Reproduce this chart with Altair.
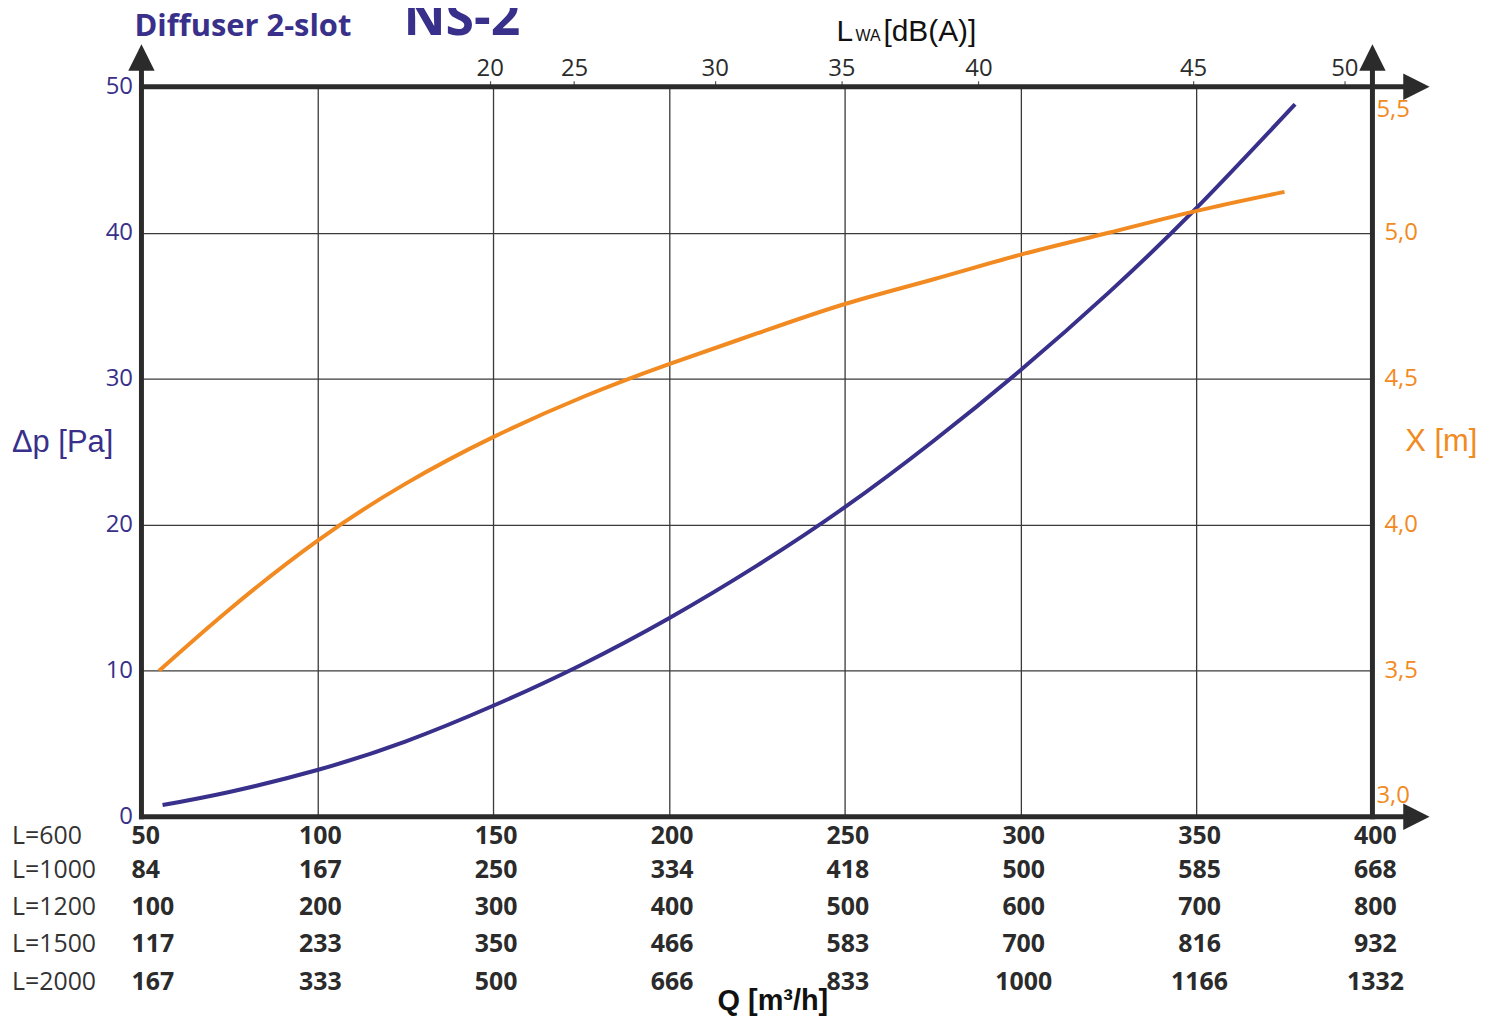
import altair as alt
import pandas as pd

BLUE = "#38308a"
ORANGE = "#f28a22"
INK = "#2b2b2b"
GRID = "#3a3a3a"

# ---------------- data ----------------
# pressure drop curve (left axis, Pa)
dp_q = [56, 75, 100, 125, 150, 175, 200, 225, 250, 275, 300, 325, 350, 378]
dp_pa = [0.8, 1.7, 3.2, 5.15, 7.6, 10.4, 13.6, 17.2, 21.2, 25.7, 30.6, 35.9, 41.7, 48.8]

# throw curve (right axis, m)
throw_q = [55, 75, 100, 125, 150, 176, 200, 225, 250, 275, 300, 325, 350, 375]
throw_m = [3.50, 3.71, 3.945, 4.14, 4.30, 4.44, 4.55, 4.655, 4.756, 4.84, 4.925, 5.00, 5.075, 5.14]

# sound power (top axis): labels and the flow Q where each sits
lwa_labels = ["20", "25", "30", "35", "40", "45", "50"]
lwa_q = [149, 173, 213, 249, 288, 349, 392]

q_grid = [100, 150, 200, 250, 300, 350]
pa_ticks = [0, 10, 20, 30, 40, 50]
x_mid_ticks = [3.5, 4.0, 4.5, 5.0]
x_end_low = [3.0]
x_end_high = [5.5]

q_cols = [50, 100, 150, 200, 250, 300, 350, 400]
row_names = ["L=600", "L=1000", "L=1200", "L=1500", "L=2000"]
row_values = [
    [50, 100, 150, 200, 250, 300, 350, 400],
    [84, 167, 250, 334, 418, 500, 585, 668],
    [100, 200, 300, 400, 500, 600, 700, 800],
    [117, 233, 350, 466, 583, 700, 816, 932],
    [167, 333, 500, 666, 833, 1000, 1166, 1332],
]

# frame lines and arrow heads (in data units)
frame_q = [50, 400, 50, 50]
frame_q2 = [50, 400, 411, 411]
frame_pa = [0, 0, 50, 0]
frame_pa2 = [51.6, 51.6, 50, 0]
arrow_up_q = [50, 400]
arrow_up_pa = [52.0, 52.0]
arrow_right_q = [412.5, 412.5]
arrow_right_pa = [50, 0]

# ---------------- layout ----------------
W, H = 1236, 733
ROW_Y = [837, 871, 909, 946, 984]  # page y of table rows
OX, OY = 142, 85  # page position of plot origin

xs = alt.Scale(domain=[50, 400], nice=False, zero=False)
ys = alt.Scale(domain=[0, 50], nice=False, zero=False)
ys2 = alt.Scale(domain=[3.0, 5.5], nice=False, zero=False)

df_dp = pd.DataFrame({"q": dp_q, "pa": dp_pa})
df_x = pd.DataFrame({"q": throw_q, "m": throw_m})
df_lwa = pd.DataFrame({"q": lwa_q, "label": lwa_labels})

blue = alt.Chart(df_dp).mark_line(color=BLUE, strokeWidth=4, interpolate="natural").encode(
    x=alt.X("q:Q", scale=xs, axis=alt.Axis(
        orient="bottom", values=q_grid, grid=True, labels=False, ticks=False,
        domain=False, title=None, gridColor=GRID, gridWidth=1.3, gridOpacity=1)),
    y=alt.Y("pa:Q", scale=ys, axis=alt.Axis(
        orient="left", values=pa_ticks, grid=True, ticks=False, domain=False,
        title=None, labelColor=BLUE, labelFont="Open Sans", labelFontSize=24,
        labelPadding=9, labelFlush=False, labelOverlap=False,
        gridColor=GRID, gridWidth=1.3, gridOpacity=1)),
)

orange = alt.Chart(df_x).mark_line(color=ORANGE, strokeWidth=4, interpolate="natural").encode(
    x=alt.X("q:Q", scale=xs, axis=None),
    y=alt.Y("m:Q", scale=ys2, axis=None),
)

top_expr = f"{lwa_labels}[indexof({lwa_q}, datum.value)]"
top_axis = alt.Chart(df_lwa).mark_point(opacity=0).encode(
    x=alt.X("q:Q", scale=xs, axis=alt.Axis(
        orient="top", values=lwa_q, labelExpr=top_expr, grid=False, domain=False,
        ticks=True, tickSize=6, tickColor="#555", tickWidth=1.2, labelFlush=False,
        labelOverlap=False, labelFont="Open Sans", labelFontSize=24, labelColor=INK,
        labelPadding=0, title=None)),
    y=alt.value(0),
)

df_frame = pd.DataFrame({"q": frame_q, "q2": frame_q2, "pa": frame_pa, "pa2": frame_pa2})
frame = alt.Chart(df_frame).mark_rule(color=INK, strokeWidth=5, strokeCap="square").encode(
    x=alt.X("q:Q", scale=xs, axis=None), x2="q2:Q",
    y=alt.Y("pa:Q", scale=ys, axis=None), y2="pa2:Q",
)

up = alt.Chart(pd.DataFrame({"q": arrow_up_q, "pa": arrow_up_pa})).mark_point(
    shape="M-1,1L0,-1L1,1Z", filled=True, color=INK, opacity=1, size=700, strokeWidth=0
).encode(x=alt.X("q:Q", scale=xs, axis=None), y=alt.Y("pa:Q", scale=ys, axis=None))

right = alt.Chart(pd.DataFrame({"q": arrow_right_q, "pa": arrow_right_pa})).mark_point(
    shape="M-1,-1L1,0L-1,1Z", filled=True, color=INK, opacity=1, size=700, strokeWidth=0
).encode(x=alt.X("q:Q", scale=xs, axis=None), y=alt.Y("pa:Q", scale=ys, axis=None))


def right_labels(vals, dx, dy):
    d = pd.DataFrame({"m": vals, "t": [f"{v:.1f}".replace(".", ",") for v in vals]})
    return alt.Chart(d).mark_text(
        font="Open Sans", fontSize=24, color=ORANGE, align="left", baseline="middle",
        dx=dx, dy=dy
    ).encode(x=alt.value(W), y=alt.Y("m:Q", scale=ys2, axis=None), text="t:N")


layers = [blue, orange, top_axis, frame, up, right,
          right_labels(x_mid_ticks, 12, 0),
          right_labels(x_end_low, 4, -21),
          right_labels(x_end_high, 4, 23)]

# table of flows under the x axis
for name, vals, py in zip(row_names, row_values, ROW_Y):
    d = pd.DataFrame({"q": q_cols, "v": [str(v) for v in vals]})
    first = alt.Chart(d.iloc[:1]).mark_text(
        font="Open Sans", fontWeight="bold", fontSize=25, color=INK, align="left",
        baseline="middle", dx=-10
    ).encode(x=alt.X("q:Q", scale=xs, axis=None), text="v:N", y=alt.value(py - OY))
    rest = alt.Chart(d.iloc[1:]).mark_text(
        font="Open Sans", fontWeight="bold", fontSize=25, color=INK, align="center",
        baseline="middle", dx=3
    ).encode(x=alt.X("q:Q", scale=xs, axis=None), text="v:N", y=alt.value(py - OY))
    lab = alt.Chart(pd.DataFrame({"t": [name]})).mark_text(
        font="Open Sans", fontSize=25, color="#333", align="left", baseline="middle"
    ).encode(x=alt.value(12 - OX), y=alt.value(py - OY), text="t:N")
    layers += [first, rest, lab]


def label(text, px, py, size, color, font="Liberation Sans", weight="normal", align="left"):
    return alt.Chart(pd.DataFrame({"t": [text]})).mark_text(
        font=font, fontSize=size, color=color, fontWeight=weight, align=align,
        baseline="alphabetic"
    ).encode(x=alt.value(px - OX), y=alt.value(py - OY), text="t:N")


layers += [
    label("Diffuser 2-slot", 135, 34, 31, BLUE, font="Open Sans", weight="bold"),
    label("NS-2", 405, 33, 52, BLUE, font="Open Sans", weight="bold"),
    label("L", 840, 39, 30, "#111"),
    label("WA", 859, 39, 16, "#111"),
    label("[dB(A)]", 887, 39, 30, "#111"),
    label("\u0394p [Pa]", 12, 452, 31, BLUE),
    label("X [m]", 1411, 451, 31, ORANGE),
    label("Q [m\u00b3/h]", 776, 1012, 29, "#111", weight="bold", align="center"),
]

chart = alt.layer(*layers).resolve_scale(y="independent").resolve_axis(
    x="independent", y="independent"
).properties(
    width=W, height=H,
    autosize=alt.AutoSizeParams(type="none"),
    padding={"left": OX - 8, "top": OY - 8, "right": 108, "bottom": 199},
).configure_view(strokeWidth=0)

chart.save("out.html", embed_options={"renderer": "svg", "actions": False})
